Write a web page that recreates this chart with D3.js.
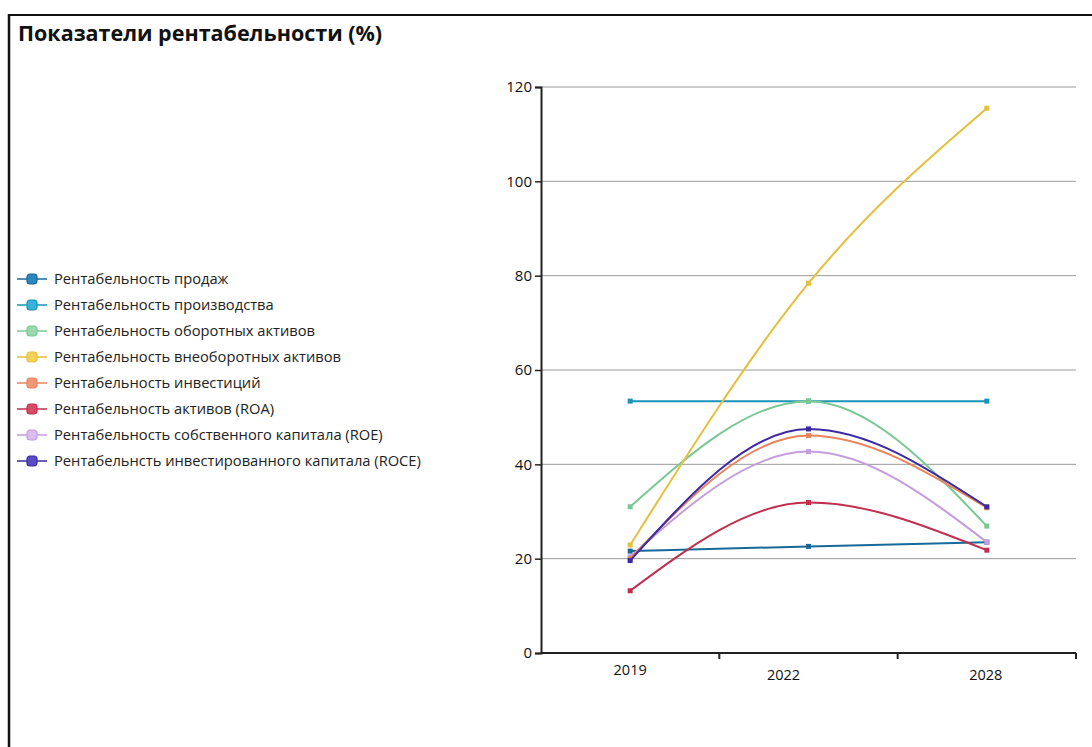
<!DOCTYPE html>
<html>
<head>
<meta charset="utf-8">
<script src="https://cdn.jsdelivr.net/npm/d3@7"></script>
<style>
  html, body { margin: 0; padding: 0; background: #fff; }
  svg { display: block; font-family: "Open Sans", "Noto Sans", sans-serif; }
</style>
</head>
<body>
<svg id="chart" width="1092" height="747"></svg>
<script>
// Years on the x axis
const years = ["2019", "2022", "2028"];

// Series names (legend order)
const seriesNames = [
  "Рентабельность продаж",
  "Рентабельность производства",
  "Рентабельность оборотных активов",
  "Рентабельность внеоборотных активов",
  "Рентабельность инвестиций",
  "Рентабельность активов (ROA)",
  "Рентабельность собственного капитала (ROE)",
  "Рентабельнсть инвестированного капитала (ROCE)"
];

// Values per series, %
const salesValues      = [21.6, 22.6, 23.5];
const productionValues = [53.4, 53.4, 53.4];
const currentValues    = [31.0, 53.4, 26.9];
const nonCurrentValues = [22.9, 78.4, 115.5];
const investValues     = [20.0, 46.1, 30.8];
const roaValues        = [13.2, 31.9, 21.8];
const roeValues        = [20.4, 42.7, 23.5];
const roceValues       = [19.6, 47.5, 31.0];

const yTicks = [0, 20, 40, 60, 80, 100, 120];

const seriesValues = [salesValues, productionValues, currentValues, nonCurrentValues,
                      investValues, roaValues, roeValues, roceValues];

const lineColors = ["#17699a", "#1a93b8", "#79c894", "#e6bf3c", "#e8845c", "#c02f4e", "#c49ddc", "#3b2aa3"];
const fillColors = ["#2d86bd", "#35b3d8", "#9ad9ae", "#f3d25a", "#f29675", "#d94a68", "#dbbdf0", "#5a4bc4"];

const svg = d3.select("#chart");

// Outer frame (top and left edges)
svg.append("line").attr("x1", 9).attr("x2", 1092).attr("y1", 15).attr("y2", 15)
  .attr("stroke", "#111").attr("stroke-width", 2);
svg.append("line").attr("x1", 9).attr("x2", 9).attr("y1", 14).attr("y2", 747)
  .attr("stroke", "#111").attr("stroke-width", 2.5);

// Title
svg.append("text").attr("x", 18).attr("y", 41)
  .attr("font-size", 21.5).attr("font-weight", "bold").attr("fill", "#111")
  .text("Показатели рентабельности (%)");

// Plot area
const plotL = 541, plotR = 1076, plotT = 87, plotB = 653;

const x = d3.scaleBand().domain(years).range([plotL, plotR]);
const y = d3.scaleLinear().domain([0, 120]).range([plotB, plotT]);

// Horizontal grid
svg.append("g").selectAll("line").data(yTicks.filter(d => d > 0)).join("line")
  .attr("x1", plotL).attr("x2", plotR)
  .attr("y1", d => y(d)).attr("y2", d => y(d))
  .attr("stroke", "#9a9a9a").attr("stroke-width", 1);

// Y axis
const yAxis = svg.append("g").attr("transform", `translate(${plotL},0)`)
  .call(d3.axisLeft(y).tickValues(yTicks).tickSize(6).tickPadding(3));
yAxis.select(".domain").attr("stroke", "#222").attr("stroke-width", 2);
yAxis.selectAll(".tick line").attr("stroke", "#222").attr("stroke-width", 1.5);
yAxis.selectAll("text").attr("font-size", 15).attr("fill", "#111")
  .attr("font-family", "\"Open Sans\", sans-serif");

// X axis: ticks on band boundaries
const bounds = years.map(d => x(d)).concat([plotR]);
const xAxisG = svg.append("g").attr("transform", `translate(0,${plotB})`);
xAxisG.append("line").attr("x1", plotL).attr("x2", plotR).attr("y1", 0).attr("y2", 0)
  .attr("stroke", "#222").attr("stroke-width", 2);
xAxisG.selectAll(".bt").data(bounds.slice(1)).join("line")
  .attr("x1", d => d).attr("x2", d => d).attr("y1", 0).attr("y2", 6)
  .attr("stroke", "#222").attr("stroke-width", 2);

// Category labels, slightly staggered
const labelShift = [[0, 22], [-25, 27], [-1, 27]];
xAxisG.selectAll(".lbl").data(years).join("text")
  .attr("x", (d, i) => x(d) + x.bandwidth() / 2 + labelShift[i][0])
  .attr("y", (d, i) => labelShift[i][1])
  .attr("text-anchor", "middle").attr("font-size", 14.5).attr("fill", "#111")
  .text(d => d);

// Lines
const cx = d => x(d) + x.bandwidth() / 2;
const line = d3.line()
  .x((v, i) => cx(years[i]))
  .y(v => y(v))
  .curve(d3.curveMonotoneX);

const drawOrder = [0, 1, 2, 3, 6, 4, 7, 5];
drawOrder.forEach(si => {
  const vals = seriesValues[si];
  const g = svg.append("g");
  g.append("path").attr("d", line(vals))
    .attr("fill", "none").attr("stroke", lineColors[si]).attr("stroke-width", 2);
  g.selectAll("rect").data(vals).join("rect")
    .attr("x", (v, i) => cx(years[i]) - 2.5)
    .attr("y", v => y(v) - 2.5)
    .attr("width", 5).attr("height", 5)
    .attr("fill", lineColors[si]);
});

// Legend
const legend = svg.append("g");
seriesNames.forEach((name, i) => {
  const ly = 279 + i * 26;
  const g = legend.append("g").attr("transform", `translate(0,${ly})`);
  g.append("line").attr("x1", 17).attr("x2", 47).attr("y1", 0).attr("y2", 0)
    .attr("stroke", lineColors[i]).attr("stroke-width", 1.5);
  g.append("rect").attr("x", 27).attr("y", -5).attr("width", 10).attr("height", 10)
    .attr("rx", 3).attr("fill", fillColors[i]).attr("stroke", lineColors[i]).attr("stroke-width", 1.2);
  g.append("text").attr("x", 54).attr("y", 5)
    .attr("font-size", 14.7).attr("fill", "#222").text(name);
});
</script>
</body>
</html>
